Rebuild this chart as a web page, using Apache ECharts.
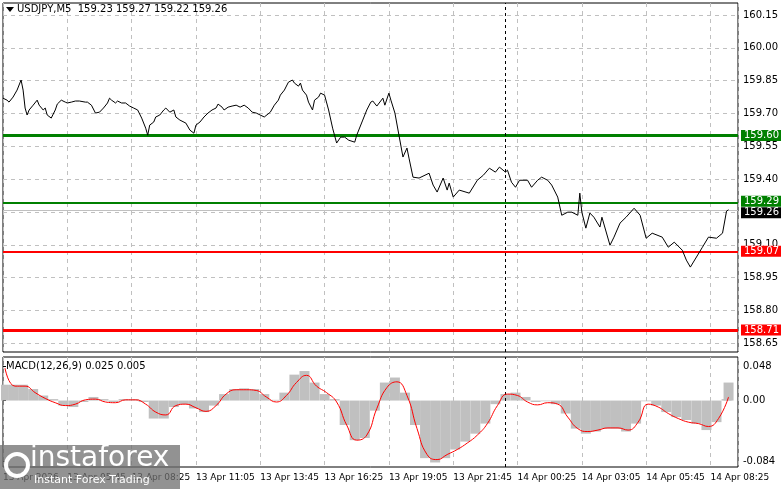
<!DOCTYPE html>
<html><head><meta charset="utf-8">
<script src="https://cdn.jsdelivr.net/npm/echarts@6/dist/echarts.min.js"></script>
<style>html,body{margin:0;padding:0;background:#fff}#c{width:781px;height:489px}</style>
</head><body><div id="c"></div>
<script>
const timeLabels=["13 Apr 2026","13 Apr 05:45","13 Apr 08:25","13 Apr 11:05","13 Apr 13:45","13 Apr 16:25","13 Apr 19:05","13 Apr 21:45","14 Apr 00:25","14 Apr 03:05","14 Apr 05:45","14 Apr 08:25"];
const priceTicks=[160.15,160.00,159.85,159.70,159.55,159.40,159.10,158.95,158.80,158.65];
const macdTicks=[0.048,0,-0.084];
const priceBars=[0,2,3,5,7,9,10,11,12,13,15,17,18,20,21,22,24,26,27,29,31,32,34,36,38,41,42,44,46,48,50,52,53,54,56,57,59,61,63,65,67,69,71,72,73,75,76,78,80,81,83,85,86,88,91,93,95,96,98,100,102,104,106,107,109,110,112,114,116,118,120,122,124,126,128,130,133,135,137,138,140,142,144,145,147,148,149,151,152,154,155,157,158,160,162,164,166,168,170,172,175,176,179,181,183,184,186,189,190,192,193,195,197,199,201,202,204,207,212,214,216,219,221,222,224,227,232,236,239,242,245,247,250,251,253,255,257,261,263,266,268,271,273,276,278,281,283,286,287,288,290,292,294,297,298,302,304,307,310,314,317,320,323,328,331,334,338,340,342,348,351,355,358,360,361];
const prices=[159.770,159.761,159.752,159.775,159.807,159.853,159.807,159.725,159.693,159.716,159.738,159.761,159.738,159.716,159.725,159.693,159.679,159.716,159.743,159.761,159.752,159.748,159.752,159.757,159.757,159.752,159.752,159.738,159.702,159.706,159.725,159.748,159.770,159.761,159.748,159.757,159.748,159.748,159.734,159.725,159.716,159.679,159.633,159.601,159.647,159.661,159.684,159.693,159.716,159.725,159.706,159.716,159.684,159.670,159.656,159.624,159.610,159.647,159.661,159.684,159.702,159.716,159.725,159.743,159.729,159.716,159.729,159.734,159.738,159.729,159.738,159.725,159.706,159.702,159.693,159.684,159.706,159.738,159.761,159.784,159.807,159.843,159.853,159.839,159.825,159.839,159.807,159.784,159.752,159.716,159.761,159.775,159.793,159.784,159.716,159.633,159.565,159.592,159.592,159.578,159.569,159.601,159.670,159.716,159.752,159.757,159.734,159.770,159.738,159.793,159.761,159.702,159.601,159.501,159.542,159.496,159.409,159.405,159.427,159.373,159.341,159.405,159.350,159.382,159.318,159.350,159.336,159.395,159.418,159.450,159.432,159.455,159.432,159.441,159.386,159.363,159.395,159.395,159.363,159.395,159.409,159.395,159.373,159.318,159.235,159.249,159.249,159.235,159.336,159.249,159.176,159.245,159.226,159.181,159.226,159.098,159.135,159.199,159.226,159.267,159.235,159.130,159.153,159.135,159.089,159.112,159.075,159.030,158.998,159.089,159.135,159.130,159.153,159.254,159.260];
const histValues=[0.022,0.022,0.022,0.016,0.007,0.002,-0.007,-0.009,-0.002,0.005,0.002,-0.002,0.002,0.002,-0.002,-0.025,-0.025,-0.009,-0.005,-0.011,-0.016,-0.007,0.009,0.016,0.017,0.016,0.009,0.001,0.011,0.036,0.041,0.025,0.009,0.002,-0.034,-0.055,-0.052,-0.014,0.025,0.032,0.011,-0.034,-0.080,-0.086,-0.080,-0.068,-0.057,-0.046,-0.032,-0.005,0.009,0.011,0.005,-0.002,-0.001,-0.005,-0.018,-0.039,-0.046,-0.043,-0.039,-0.039,-0.043,-0.032,-0.001,-0.007,-0.016,-0.023,-0.027,-0.032,-0.041,-0.030,0.002,0.025];
const signalValues=[0.045,0.020,0.020,0.011,0.003,-0.003,-0.007,-0.005,0.001,0.002,-0.002,-0.003,0.001,0.001,-0.005,-0.016,-0.020,-0.007,-0.005,-0.010,-0.015,-0.007,0.009,0.015,0.015,0.014,0.005,-0.002,0.007,0.025,0.035,0.020,0.011,-0.002,-0.034,-0.055,-0.048,-0.011,0.018,0.026,0.007,-0.039,-0.075,-0.082,-0.075,-0.068,-0.059,-0.048,-0.032,-0.007,0.009,0.007,-0.002,-0.006,-0.003,-0.005,-0.023,-0.039,-0.043,-0.041,-0.038,-0.038,-0.041,-0.030,-0.005,-0.009,-0.018,-0.025,-0.030,-0.032,-0.036,-0.025,0.005];
const levels=[{v:159.60,c:'#008000',w:3},{v:159.29,c:'#008000',w:2},{v:159.07,c:'#ff0000',w:2},{v:158.71,c:'#ff0000',w:3}];
const lastPrice=159.26, daySep=250;

const F='Tahoma, "DejaVu Sans", sans-serif';
const chart=echarts.init(document.getElementById('c'));
const histData=histValues.map((v,i)=>[Math.min(i*5,361),v]);
const sigData=signalValues.map((v,i)=>[Math.min(1+i*5,361),v]);
const dashed={show:true,lineStyle:{color:'#c0c0c0',type:[4,4],width:1}};
const lvlMark=levels.map(l=>({yAxis:l.v,lineStyle:{color:l.c,width:l.w,type:'solid'},label:{show:true,position:'end',formatter:l.v.toFixed(2),color:'#fff',backgroundColor:l.c,padding:[1,3,0,3],fontSize:10,fontFamily:F,distance:3,offset:[0,l.v===159.29?-2:0]}}));
lvlMark.push({yAxis:lastPrice,lineStyle:{color:'#c0c0c0',width:1,type:'solid'},label:{show:true,position:'end',formatter:lastPrice.toFixed(2),color:'#fff',backgroundColor:'#000',padding:[1,3,0,3],fontSize:10,fontFamily:F,distance:3,offset:[0,3]}});
chart.setOption({
  animation:false,
  grid:[{left:3,right:43,top:3,height:349,show:true,borderColor:'#000',borderWidth:1,backgroundColor:'#fff'},
        {left:3,right:43,top:357,height:110,show:true,borderColor:'#000',borderWidth:1}],
  xAxis:[{gridIndex:0,type:'value',min:0,max:365.7,interval:32,axisLine:{show:false},axisTick:{show:false},axisLabel:{show:false},splitLine:dashed},
         {gridIndex:1,type:'value',min:0,max:365.7,interval:32,axisLine:{show:false},axisTick:{show:false},splitLine:dashed,
          axisLabel:{show:true,align:'left',margin:6,fontSize:9,fontFamily:F,color:'#000',showMaxLabel:false,formatter:v=>timeLabels[Math.round(v/32)]||''}}],
  yAxis:[{gridIndex:0,type:'value',position:'right',min:158.61,max:160.205,axisLine:{show:false},
          axisTick:{show:true,customValues:priceTicks,length:3,inside:false,lineStyle:{color:'#000'}},
          axisLabel:{customValues:priceTicks,formatter:v=>v.toFixed(2),fontSize:10,fontFamily:F,color:'#000',margin:5},
          splitLine:{show:false}},
         {gridIndex:1,type:'value',position:'right',min:-0.0923,max:0.0605,axisLine:{show:false},
          axisTick:{show:true,customValues:macdTicks,length:3,lineStyle:{color:'#000'}},
          axisLabel:{customValues:macdTicks,formatter:v=>v===0?'0.00':String(v),fontSize:10,fontFamily:F,color:'#000',margin:5},
          splitLine:{show:false}}],
  series:[
    {type:'line',xAxisIndex:0,yAxisIndex:0,data:priceTicks.filter(t=>t<160.2).map(t=>[0,t]),symbol:'none',lineStyle:{opacity:0},silent:true,
     markLine:{symbol:'none',silent:true,label:{show:false},data:priceTicks.concat([159.25]).map(t=>({yAxis:t,lineStyle:{color:'#c0c0c0',type:[4,4],width:1}}))}},
    {type:'line',xAxisIndex:0,yAxisIndex:0,data:priceBars.map((b,i)=>[b,prices[i]]),symbol:'none',lineStyle:{color:'#000',width:1},z:5,
     markLine:{symbol:'none',silent:true,data:lvlMark.concat([{xAxis:daySep,lineStyle:{color:'#000',type:[3,3],width:1},label:{show:false}}])}},
    {type:'bar',xAxisIndex:1,yAxisIndex:1,data:histData,barWidth:10,itemStyle:{color:'#c0c0c0'},
     markLine:{symbol:'none',silent:true,data:[{xAxis:daySep,lineStyle:{color:'#000',type:[3,3],width:1},label:{show:false}}]}},
    {type:'line',xAxisIndex:1,yAxisIndex:1,data:sigData,symbol:'none',smooth:true,lineStyle:{color:'#ff0000',width:1},z:5}
  ],
  graphic:[
    {type:'polygon',shape:{points:[[6,7],[14,7],[10,12]]},style:{fill:'#000'},z:100},
    {type:'text',left:17,top:4,style:{text:'USDJPY,M5  159.23 159.27 159.22 159.26',font:'10px '+F,fill:'#000'},z:100},
    {type:'text',left:6,top:361,style:{text:'MACD(12,26,9) 0.025 0.005',font:'10px '+F,fill:'#000'},z:100},
    {type:'rect',shape:{x:0,y:445,width:180,height:44},style:{fill:'rgba(110,110,110,0.75)'},z:100},
    {type:'text',left:30,top:445,style:{text:'instaforex',font:'28px "DejaVu Sans", sans-serif',fill:'#fff'},z:101},
    {type:'text',left:34,top:475,style:{text:'Instant Forex Trading',font:'11px "DejaVu Sans", sans-serif',fill:'#fff'},z:101},
    {type:'circle',shape:{cx:17,cy:465,r:11},style:{fill:'none',stroke:'#fff',lineWidth:4},z:101}
  ]
});
</script></body></html>
